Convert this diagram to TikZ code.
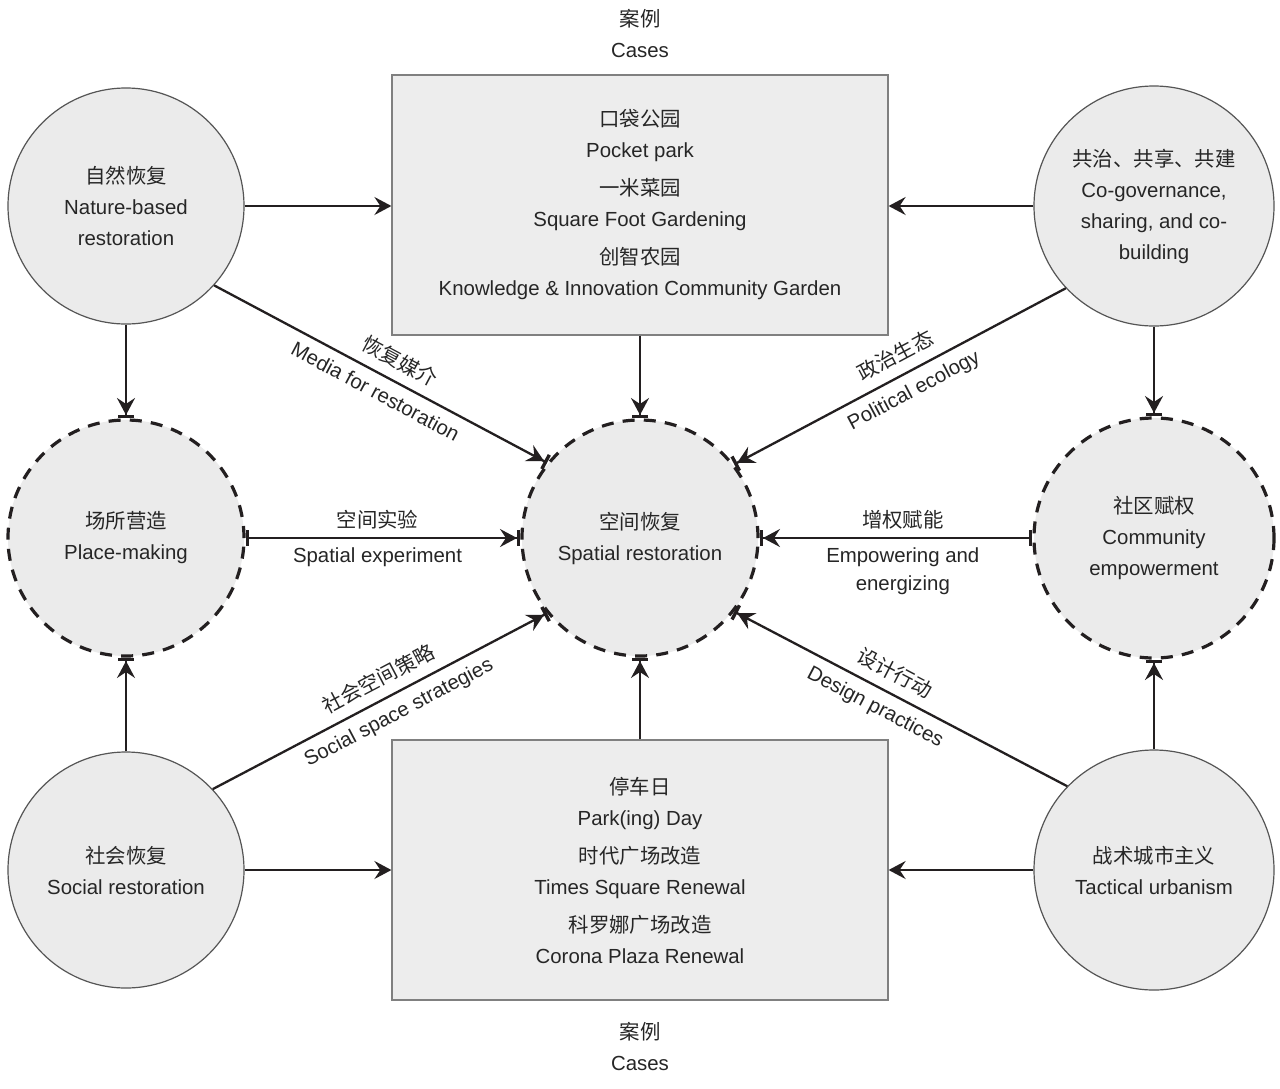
\documentclass[tikz,border=0pt]{standalone}
\usepackage{fontspec}
\setmainfont{Liberation Sans}
\newfontfamily\cjk{Noto Sans CJK SC}
\usetikzlibrary{arrows.meta}
\definecolor{txtc}{HTML}{262626}
\definecolor{linec}{HTML}{231F20}
\definecolor{fillc}{HTML}{EBEBEB}
\definecolor{boxc}{HTML}{EDEDED}
\definecolor{boxline}{HTML}{808080}
\definecolor{circline}{HTML}{555555}
\newcommand{\zhtxt}[1]{{\cjk #1}}
\tikzset{
  solidc/.style={circle, draw=circline, line width=0.6pt, fill=fillc, minimum size=118pt, inner sep=0pt, align=center, text=txtc},
  dashc/.style={circle, draw=linec, line width=1.6pt, dash pattern=on 6pt off 4.6pt, fill=fillc, minimum size=118pt, inner sep=0pt, align=center, text=txtc},
  casebox/.style={rectangle, draw=boxline, line width=0.6pt, fill=boxc, minimum width=248pt, minimum height=130pt, inner sep=0pt, align=center, text=txtc},
  lbl/.style={align=center, text=txtc, inner sep=0pt},
  arr/.style={draw=linec, line width=1.15pt, -{Stealth[length=8.5pt,width=9pt,inset=3pt]}},
  arrb/.style={draw=linec, line width=1.15pt, -{Stealth[length=8.5pt,width=9pt,inset=3pt,sep=0pt]Bar[width=8pt,line width=1.7pt]}},
  barr/.style={draw=linec, line width=1.15pt, {Bar[width=8pt,line width=1.7pt]}-{Stealth[length=8.5pt,width=9pt,inset=3pt,sep=0pt]Bar[width=8pt,line width=1.7pt]}},
  zhl/.style={inner sep=0pt, text=txtc, sloped, above=5pt},
  enl/.style={inner sep=0pt, text=txtc, sloped, below=4.5pt},
}
\begin{document}
\begin{tikzpicture}[x=0.5pt,y=-0.5pt, font=\fontsize{10.2pt}{15.5pt}\selectfont]
\useasboundingbox (0,0) rectangle (1280,1088);
\fill[white] (0,0) rectangle (1280,1088);

% case labels
\node[lbl] (ctop) at (640,33) {\zhtxt{案例}\\Cases};
\node[lbl] (cbot) at (640,1046) {\zhtxt{案例}\\Cases};

% boxes
\node[casebox] (topbox) at (640,205) {\zhtxt{口袋公园}\\Pocket park\\[3.5pt]\zhtxt{一米菜园}\\Square Foot Gardening\\[3.5pt]\zhtxt{创智农园}\\Knowledge \& Innovation Community Garden};
\node[casebox] (botbox) at (640,870) {\zhtxt{停车日}\\Park(ing) Day\\[3.5pt]\zhtxt{时代广场改造}\\Times Square Renewal\\[3.5pt]\zhtxt{科罗娜广场改造}\\Corona Plaza Renewal};

% circles
\node[solidc] (nat) at (126,206) {\zhtxt{自然恢复}\\Nature-based\\restoration};
\node[solidc, minimum size=120pt] (cog) at (1154,206) {\zhtxt{共治、共享、共建}\\Co-governance,\\sharing, and co-\\building};
\node[dashc] (plc) at (126,538) {\zhtxt{场所营造}\\Place-making};
\node[dashc] (spa) at (640,538) {\zhtxt{空间恢复}\\Spatial restoration};
\node[dashc, minimum size=120pt] (com) at (1154,538) {\zhtxt{社区赋权}\\Community\\empowerment};
\node[solidc] (soc) at (126,870) {\zhtxt{社会恢复}\\Social restoration};
\node[solidc, minimum size=120pt] (tac) at (1154,870) {\zhtxt{战术城市主义}\\Tactical urbanism};

% arrows to boxes
\draw[arr] (nat.east) -- (topbox.west |- nat.east);
\draw[arr] (cog.west) -- (topbox.east |- cog.west);
\draw[arr] (soc.east) -- (botbox.west |- soc.east);
\draw[arr] (tac.west) -- (botbox.east |- tac.west);

% vertical arrows
\draw[arrb] (topbox.south) -- (spa.north);
\draw[arrb] (botbox.north) -- (spa.south);
\draw[arrb] (nat.south) -- (plc.north);
\draw[arrb] (soc.north) -- (plc.south);
\draw[arrb] (cog.south) -- (com.north);
\draw[arrb] (tac.north) -- (com.south);

% horizontal arrows
\draw[barr] (plc.east) -- (spa.west)
  node[pos=0.48, inner sep=0pt, text=txtc, above=4pt] {\zhtxt{空间实验}}
  node[pos=0.48, inner sep=0pt, text=txtc, below=4.5pt] {Spatial experiment};
\draw[barr] (com.west) -- (spa.east)
  node[pos=0.475, inner sep=0pt, text=txtc, above=4pt] {\zhtxt{增权赋能}}
  node[pos=0.475, inner sep=0pt, text=txtc, below=4.5pt, align=center, font=\fontsize{10.2pt}{14pt}\selectfont] {Empowering and\\energizing};

% diagonal arrows
\draw[arrb] (nat.-42) -- (spa.141)
  node[zhl, pos=0.53] {\zhtxt{恢复媒介}}
  node[enl, pos=0.51] {Media for restoration};
\draw[arrb] (cog.-137.5) -- (spa.38.5)
  node[zhl, pos=0.485] {\zhtxt{政治生态}}
  node[enl, pos=0.485] {Political ecology};
\draw[arrb] (soc.43) -- (spa.-141.5)
  node[zhl, pos=0.524] {\zhtxt{社会空间策略}}
  node[enl, pos=0.53] {Social space strategies};
\draw[arrb] (tac.136) -- (spa.-38.5)
  node[zhl, pos=0.545] {\zhtxt{设计行动}}
  node[enl, pos=0.55] {Design practices};
\end{tikzpicture}
\end{document}
